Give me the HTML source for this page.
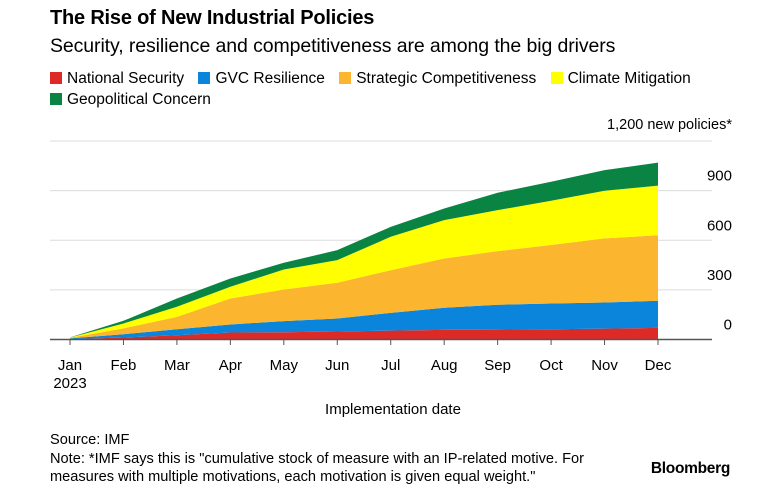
<!DOCTYPE html>
<html><head><meta charset="utf-8"><style>
body{margin:0;background:#fff;font-family:"Liberation Sans",Arial,sans-serif;color:#000}
#wrap{position:relative;width:782px;height:496px;overflow:hidden}
.t{position:absolute;white-space:nowrap}
.sw{display:inline-block;width:12px;height:12px;vertical-align:-1px;margin-right:5px}
.li{margin-right:10px}
</style></head><body><div id="wrap">
<div class="t" style="left:50px;top:7px;font-size:20px;font-weight:bold;letter-spacing:-0.2px">The Rise of New Industrial Policies</div>
<div class="t" style="left:50px;top:35px;font-size:19.5px;letter-spacing:-0.1px">Security, resilience and competitiveness are among the big drivers</div>
<div class="t" style="left:50px;top:69px;font-size:15.5px;line-height:19px">
<span class="li"><span class="sw" style="background:#dd2a26"></span>National Security</span>
<span class="li"><span class="sw" style="background:#0a85db"></span>GVC Resilience</span>
<span class="li"><span class="sw" style="background:#fbb52e"></span>Strategic Competitiveness</span>
<span class="li"><span class="sw" style="background:#ffff00"></span>Climate Mitigation</span><br>
<span style="display:inline-block;margin-top:2px"><span class="sw" style="background:#0a8443"></span>Geopolitical Concern</span>
</div>
<div class="t" style="right:50px;top:117px;font-size:14.5px">1,200 new policies*</div>
<svg id="plot" width="782" height="496" style="position:absolute;left:0;top:0"></svg>
<div class="t" style="left:0;width:782px;text-align:center;top:401px;font-size:15px"><span style="position:relative;left:2px">Implementation date</span></div>
<div class="t" style="left:50px;top:431px;font-size:14.6px;line-height:18.5px">Source: IMF<br>Note: *IMF says this is "cumulative stock of measure with an IP-related motive. For<br>measures with multiple motivations, each motivation is given equal weight."</div>
<div class="t" style="right:52px;top:460px;font-size:15.5px;font-weight:bold;letter-spacing:-0.3px">Bloomberg</div>
</div>
<script>
const months=["Jan","Feb","Mar","Apr","May","Jun","Jul","Aug","Sep","Oct","Nov","Dec"];
const yTicks=[0,300,600,900,1200];
const yTickLabels=["0","300","600","900",""];
const nationalSecurity=[2,12,26,42,44,48,54,58,60,62,66,70];
const gvcResilience=[5,20,36,49,67,79,107,134,150,156,158,164];
const strategicCompetitiveness=[3,35,75,157,191,216,258,298,324,353,387,396];
const climateMitigation=[2,30,61,71,121,137,202,232,248,268,288,300];
const geopoliticalConcern=[1,16,50,50,41,60,60,70,105,115,125,139];
const series=[nationalSecurity,gvcResilience,strategicCompetitiveness,climateMitigation,geopoliticalConcern];
const colors=["#dd2a26","#0a85db","#fbb52e","#ffff00","#0a8443"];
const names=["area-national-security","area-gvc-resilience","area-strategic-competitiveness","area-climate-mitigation","area-geopolitical-concern"];
const NS="http://www.w3.org/2000/svg";
const svg=document.getElementById('plot');
const x=i=>70+i*(658-70)/(months.length-1);
const y=v=>339.5-v*(198.5/1200);
function mk(t,a){const e=document.createElementNS(NS,t);for(const k in a)e.setAttribute(k,a[k]);svg.appendChild(e);return e;}
yTicks.forEach((v,i)=>{
  if(v>0){const g=mk('line',{x1:50,x2:712,y1:y(v),y2:y(v),stroke:'#dcdcdc','stroke-width':1});
  
  }
  if(yTickLabels[i]){const t=mk('text',{x:732,y:y(v)-10,'text-anchor':'end','font-size':'15','font-family':'Liberation Sans, Arial, sans-serif'});t.textContent=yTickLabels[i];
  
  }
});
let base=months.map(()=>0);
series.forEach((s,k)=>{
  const top=base.map((b,i)=>b+s[i]);
  let d='M'+x(0)+','+y(top[0]);
  for(let i=1;i<top.length;i++)d+=' L'+x(i)+','+y(top[i]);
  for(let i=top.length-1;i>=0;i--)d+=' L'+x(i)+','+y(base[i]);
  d+='Z';
  const p=mk('path',{d:d,fill:colors[k]});
  
  
  base=top;
});
const ax=mk('line',{x1:50,x2:712,y1:339.5,y2:339.5,stroke:'#555','stroke-width':1.5});


months.forEach((m,i)=>{
  const tk=mk('line',{x1:x(i),x2:x(i),y1:339.5,y2:345,stroke:'#555','stroke-width':1});
  
  
  const t=mk('text',{x:x(i),y:370,'text-anchor':'middle','font-size':'15','font-family':'Liberation Sans, Arial, sans-serif'});
  t.textContent=m;
  
  
});
const yr=mk('text',{x:x(0),y:388,'text-anchor':'middle','font-size':'15','font-family':'Liberation Sans, Arial, sans-serif'});
yr.textContent='2023';


</script></body></html>
